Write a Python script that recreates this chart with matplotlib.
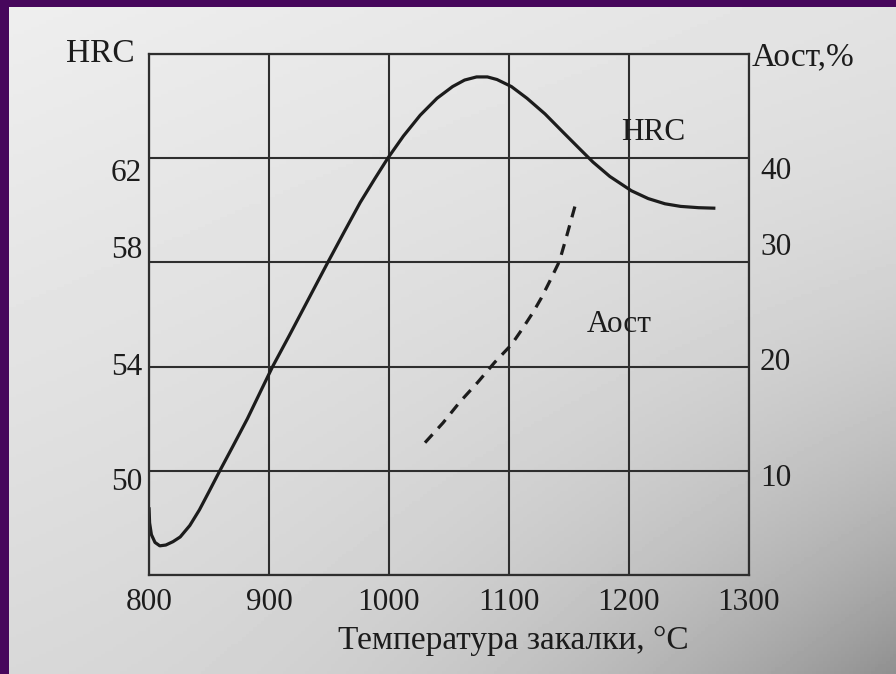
import matplotlib
matplotlib.use("Agg")
import matplotlib.pyplot as plt
import numpy as np

plt.rcParams["font.family"] = ["Liberation Serif", "DejaVu Serif"]
INK = "#1c1c1c"
GRID = "#2e2e2e"
FS = 22.5      # tick numbers
FS_T = 24      # axis titles

# ---- data ----
temp_hrc = [800, 800.5, 802, 805, 809, 814, 820, 826, 834, 842, 850, 859, 870, 882,
            893, 903, 917, 933, 949, 963, 976, 988, 999, 1012, 1026, 1040, 1053, 1063,
            1073, 1082, 1090, 1102, 1115, 1130, 1145, 1158, 1170, 1184, 1202, 1216,
            1230, 1243, 1258, 1272]
hrc = [48.6, 48.0, 47.55, 47.25, 47.12, 47.15, 47.28, 47.46, 47.9, 48.5, 49.2, 50.0,
       50.95, 52.0, 53.05, 54.0, 55.2, 56.6, 58.0, 59.2, 60.3, 61.2, 62.0, 62.85, 63.65,
       64.3, 64.75, 65.0, 65.12, 65.12, 65.02, 64.75, 64.3, 63.7, 63.0, 62.4, 61.85,
       61.3, 60.75, 60.45, 60.25, 60.15, 60.1, 60.08]

temp_aost = [1030, 1045, 1059, 1074, 1088, 1102, 1111, 1120, 1127, 1134, 1142, 1148, 1155]
aost = [12.7, 14.6, 16.6, 18.5, 20.4, 22.1, 23.6, 25.2, 26.6, 28.2, 30.1, 32.5, 35.4]

x_ticks = [800, 900, 1000, 1100, 1200, 1300]
hrc_ticks = [46, 50, 54, 58, 62, 66]
hrc_labels = ["50", "54", "58", "62"]
aost_ticks = [0, 10, 20, 30, 40, 50]
aost_labels = ["10", "20", "30", "40"]

W, H = 896, 674
fig = plt.figure(figsize=(W / 100, H / 100), dpi=100)
fig.patch.set_facecolor("#47075c")

# paper photo background (grey, darker towards lower right)
bg = fig.add_axes([9 / W, 0, 1 - 9 / W, 1 - 7 / H])
yy, xx = np.mgrid[0:1:200j, 0:1:240j]
v = 238 - 22 * yy - 12 * xx - 60 * (xx * yy) ** 2.5
bg.imshow(v, cmap="gray", vmin=0, vmax=255, aspect="auto", extent=[0, 1, 1, 0])
bg.axis("off")

px = lambda p: p * 0.72  # pixels -> points

ax = fig.add_axes([149 / W, 99 / H, 600 / W, 521 / H])
ax.patch.set_alpha(0)
ax.set_xlim(800, 1300)
ax.set_ylim(46, 66)
ax.set_xticks(x_ticks)
ax.set_yticks(hrc_ticks)
ax.set_yticklabels([])
ax.grid(True, color=GRID, lw=1.5)
ax.tick_params(length=0)
ax.tick_params(axis="x", labelsize=FS, labelcolor=INK, pad=px(13))
for s in ax.spines.values():
    s.set_color(GRID); s.set_linewidth(1.6)

ax2 = ax.twinx()
ax2.set_ylim(0, 50)
ax2.set_yticks(aost_ticks)
ax2.set_yticklabels([])
ax2.tick_params(length=0)
for s in ax2.spines.values():
    s.set_visible(False)

# tick labels, placed as in the printed figure (slightly off the grid lines)
left_shift = [-12, -1, 12, -15]
for val, lab, dy in zip(hrc_ticks[1:-1], hrc_labels, left_shift):
    ax.annotate(lab, xy=(0, val), xycoords=("axes fraction", "data"),
                xytext=(px(-7), px(dy)), textcoords="offset points",
                ha="right", va="center", fontsize=FS, color=INK)
right_shift = [-8, 4, 15, -13]
for val, lab, dy in zip(aost_ticks[1:-1], aost_labels, right_shift):
    ax2.annotate(lab, xy=(1, val), xycoords=("axes fraction", "data"),
                 xytext=(px(11), px(dy)), textcoords="offset points",
                 ha="left", va="center", fontsize=FS, color=INK)

ax.plot(temp_hrc, hrc, color=INK, lw=2.3, solid_capstyle="butt", solid_joinstyle="round")
ax2.plot(temp_aost, aost, color=INK, lw=2.3, dashes=(3.5, 2.6))

ax.text(1220, 63.0, "HRC", fontsize=FS, color=INK, ha="center", va="center")
ax2.text(1192, 24.0, "Аост", fontsize=FS, color=INK, ha="center", va="center")

ax.annotate("HRC", xy=(0, 1), xycoords="axes fraction", xytext=(px(-14), 0),
            textcoords="offset points", ha="right", va="center", fontsize=FS_T, color=INK)
ax.annotate("Аост,%", xy=(1, 1), xycoords="axes fraction", xytext=(px(3), px(-3)),
            textcoords="offset points", ha="left", va="center", fontsize=FS_T, color=INK)
ax.annotate("Температура закалки, °С", xy=(0.608, 0), xycoords="axes fraction",
            xytext=(0, px(-66)), textcoords="offset points",
            ha="center", va="center", fontsize=FS_T, color=INK)

fig.savefig("out.png", dpi=100, facecolor=fig.get_facecolor())
